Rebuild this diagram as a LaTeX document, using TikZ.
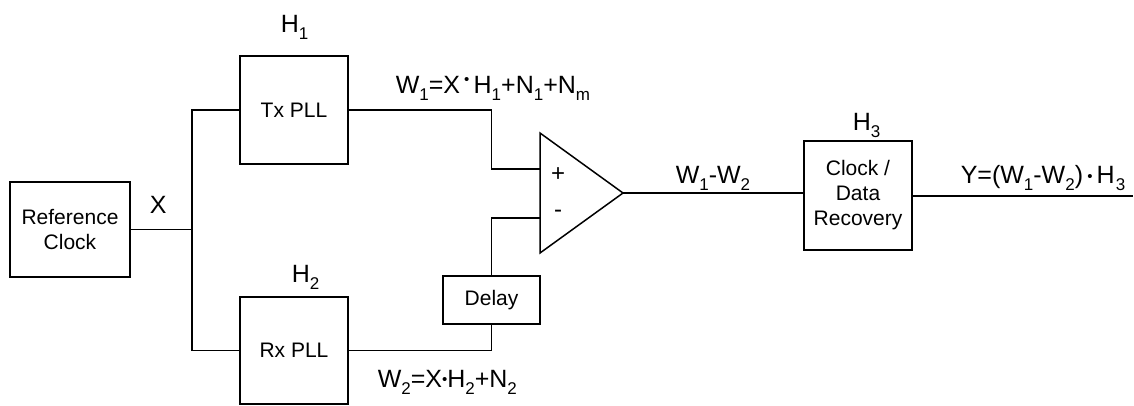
\documentclass[tikz,border=0pt]{standalone}
\usepackage{fontspec}
\setmainfont{Liberation Sans}
\newcommand\sbs[1]{\raisebox{-0.28em}{\fontsize{17}{17}\selectfont #1}}
\newcommand\bul[1]{\raisebox{#1}{\fontsize{15}{15}\selectfont •}}
\begin{document}
\begin{tikzpicture}[x=1pt,y=-1pt,line width=1.5pt,
  blk/.style={draw,line width=1.5pt,inner sep=0pt,align=center,font=\fontsize{21}{25}\selectfont},
  lbl/.style={font=\fontsize{25}{29}\selectfont,inner sep=0pt,anchor=base west},
  sgn/.style={font=\fontsize{24}{25}\selectfont,inner sep=0pt}]
\useasboundingbox (0,0) rectangle (1134,405);
% blocks
\node[blk,minimum width=120,minimum height=95] (ref) at (70,229.5) {Reference\\Clock};
\node[blk,minimum width=108,minimum height=108] (tx) at (294,110) {Tx PLL};
\node[blk,minimum width=108,minimum height=107] (rx) at (294,350.5) {Rx PLL};
\node[blk,minimum width=97,minimum height=48] (delay) at (491.5,300) {Delay};
\node[blk,minimum width=108,minimum height=109] (cdr) at (858,195.5) {Clock /\\Data\\Recovery};
% amplifier
\coordinate (ta) at (540,133);
\coordinate (tb) at (540,253);
\coordinate (tip) at (623,193);
\coordinate (plus) at (540,169);
\coordinate (minus) at (540,218);
\draw[line join=miter] (ta) -- (tip) -- (tb) -- cycle;
\node[sgn] (ps) at (558,175) {+};
\node[sgn] (ms) at (558,214) {-};
% junction and output
\coordinate (j) at (192,229.5);
\coordinate (out) at (1133,196);
% connectors
\draw (ref.east) -- (j);
\draw (j) |- (tx.west);
\draw (j) |- (rx.west);
\draw (tx.east) -| (delay.north |- plus) -- (plus);
\draw (delay.north) |- (minus);
\draw (rx.east) -| (delay.south);
\draw (tip) -- (tip -| cdr.west);
\draw (cdr.east |- out) -- (out);
% labels
\node[lbl] (h1) at (280,32) {H\sbs{1}};
\node[lbl] (h2) at (291,282) {H\sbs{2}};
\node[lbl] (h3) at (852,130) {H\sbs{3}};
\node[lbl] (x) at (149,213) {X};
\node[lbl] (w1) at (395,93) {W\sbs{1}=X\,\bul{0.34em}\,H\sbs{1}+N\sbs{1}+N\sbs{m}};
\node[lbl] (w2) at (377,387) {W\sbs{2}=X\bul{0.1em}H\sbs{2}+N\sbs{2}};
\node[lbl] (w12) at (675,183) {W\sbs{1}-W\sbs{2}};
\node[lbl] (y) at (960,183) {Y=(W\sbs{1}-W\sbs{2})\,\bul{0.06em}\,H\kern1pt\sbs{3}};
\end{tikzpicture}
\end{document}
